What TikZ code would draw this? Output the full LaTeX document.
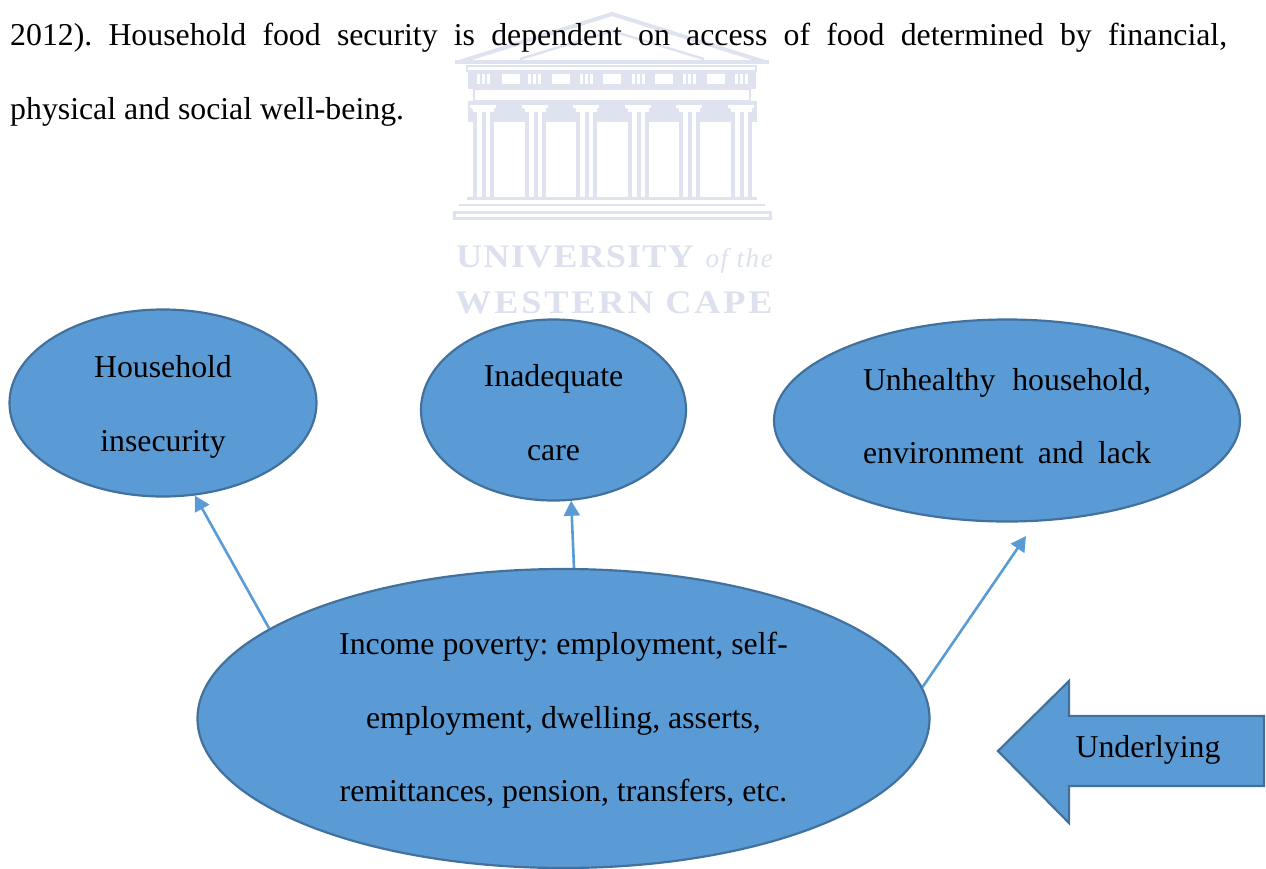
\documentclass[tikz,border=0pt]{standalone}
\usepackage{fontspec}
\setmainfont{Liberation Serif}
\usetikzlibrary{shapes.geometric,arrows.meta}
\definecolor{fillblue}{HTML}{5B9BD5}
\definecolor{edgeblue}{HTML}{41719C}
\definecolor{wm}{HTML}{DFE3EF}
\definecolor{wmtext}{HTML}{DDE1EE}
\newcommand{\bodyfont}{\frenchspacing\fontsize{31.8}{73.6}\selectfont}
\newcommand{\ltxt}[2]{\raisebox{#1}[0pt][0pt]{\begin{tabular}{@{}c@{}}#2\end{tabular}}}
\tikzset{
  blob/.style={ellipse,draw=edgeblue,fill=fillblue,line width=2.2pt,inner sep=0pt,font=\bodyfont},
  link/.style={draw=fillblue,line width=2.6pt,-{Triangle[length=15pt,width=16pt,fill=fillblue]}},
  prose/.style={inner sep=0pt,anchor=base west,font=\bodyfont},
  wmline/.style={draw=wm,line width=3pt},
  wmfill/.style={fill=wm},
}
\begin{document}
\begin{tikzpicture}[x=1pt,y=-1pt]
\useasboundingbox (0,0) rectangle (1266,868);
% watermark
\draw[draw=wm,line width=4pt,line join=miter] (459,62) -- (612,14) -- (765,62);
\draw[draw=wm,line width=2.5pt] (520,59) -- (612,31) -- (704,59);
\fill[wmfill] (455,60) rectangle (769,64);
\draw[draw=wm,line width=2.5pt] (467,66) rectangle (756,71);
\fill[wmfill] (468,71) rectangle (756,89);
\foreach \x in {477,482,487,528,533,538,580,585,590,632,637,642,683,688,693,735,740,745}
  \fill[white] (\x,74) rectangle +(3.4,9.5);
\foreach \x in {502,552,603,655,707}
  \fill[white] (\x,74) rectangle +(17.5,9.5);
\draw[draw=wm,line width=2.5pt] (474,89) rectangle (750,101);
\fill[wmfill] (468,101) rectangle (757,122);
\foreach \x in {473,525,576,628,679,731}{
  \fill[white] (\x-1,105) rectangle +(22,4);
  \fill[white] (\x-3,105) rectangle +(26,3);
  \fill[white] (\x,108) rectangle +(21,15);
  \fill[wmfill] (\x,112) rectangle +(4,86);
  \fill[wmfill] (\x+8.5,112) rectangle +(4,86);
  \fill[wmfill] (\x+17,112) rectangle +(4,86);
}
\draw[draw=wm,line width=2.5pt] (467,198.5) -- (757,198.5);
\draw[draw=wm,line width=2.5pt] (459,205) -- (765,205);
\draw[draw=wm,line width=3pt] (454,212) rectangle (770,218);
\node[font=\fontsize{33}{33}\selectfont\bfseries\addfontfeature{FakeStretch=1.1,LetterSpace=3.3},text=wmtext,inner sep=0pt,anchor=base west] (wmone) at (456,267) {UNIVERSITY};
\node[font=\fontsize{27}{27}\selectfont\itshape\addfontfeature{LetterSpace=6},text=wmtext,inner sep=0pt,anchor=base east] (wmoft) at (773,267) {of the};
\node[font=\fontsize{33}{33}\selectfont\bfseries\addfontfeature{FakeStretch=1.1,LetterSpace=8.5},text=wmtext,inner sep=0pt,anchor=base west] (wmtwo) at (455,313) {WESTERN CAPE};
% prose
\node[prose] (lineone) at (10,45) {\makebox[1217pt][s]{2012). Household food security is dependent on access of food determined by financial,}};
\node[prose] (linetwo) at (10,119) {physical and social well-being.};
% ellipses
\node[blob,minimum width=307pt,minimum height=187pt] (house) at (163,403) {\ltxt{-3pt}{Household\\insecurity}};
\node[blob,minimum width=265pt,minimum height=181pt] (care) at (553.5,410) {\ltxt{-5pt}{Inadequate\\care}};
\node[blob,minimum width=466pt,minimum height=202pt] (unh) at (1007,420.5) {\ltxt{2pt}{\makebox[288pt][s]{Unhealthy household,}\\\makebox[288pt][s]{environment and lack}}};
\node[blob,minimum width=732pt,minimum height=299pt] (inc) at (563.5,718.5) {\ltxt{-1pt}{Income poverty: employment, self-\\employment, dwelling, asserts,\\remittances, pension, transfers, etc.}};
% connectors
\coordinate (unhtip) at (1026,536);
\draw[link] (inc.163.4) -- (house.-71);
\draw[link] (inc.86.2) -- (care.-79);
\draw[link] (inc.5.75) -- (unhtip);
% block arrow
\draw[draw=edgeblue,fill=fillblue,line width=2.2pt,line join=miter] (998,751) -- (1069,681) -- (1069,716) -- (1264,716) -- (1264,786) -- (1069,786) -- (1069,823) -- cycle;
\node[font=\bodyfont,inner sep=0pt] (under) at (1148,749.5) {Underlying};
\end{tikzpicture}
\end{document}
